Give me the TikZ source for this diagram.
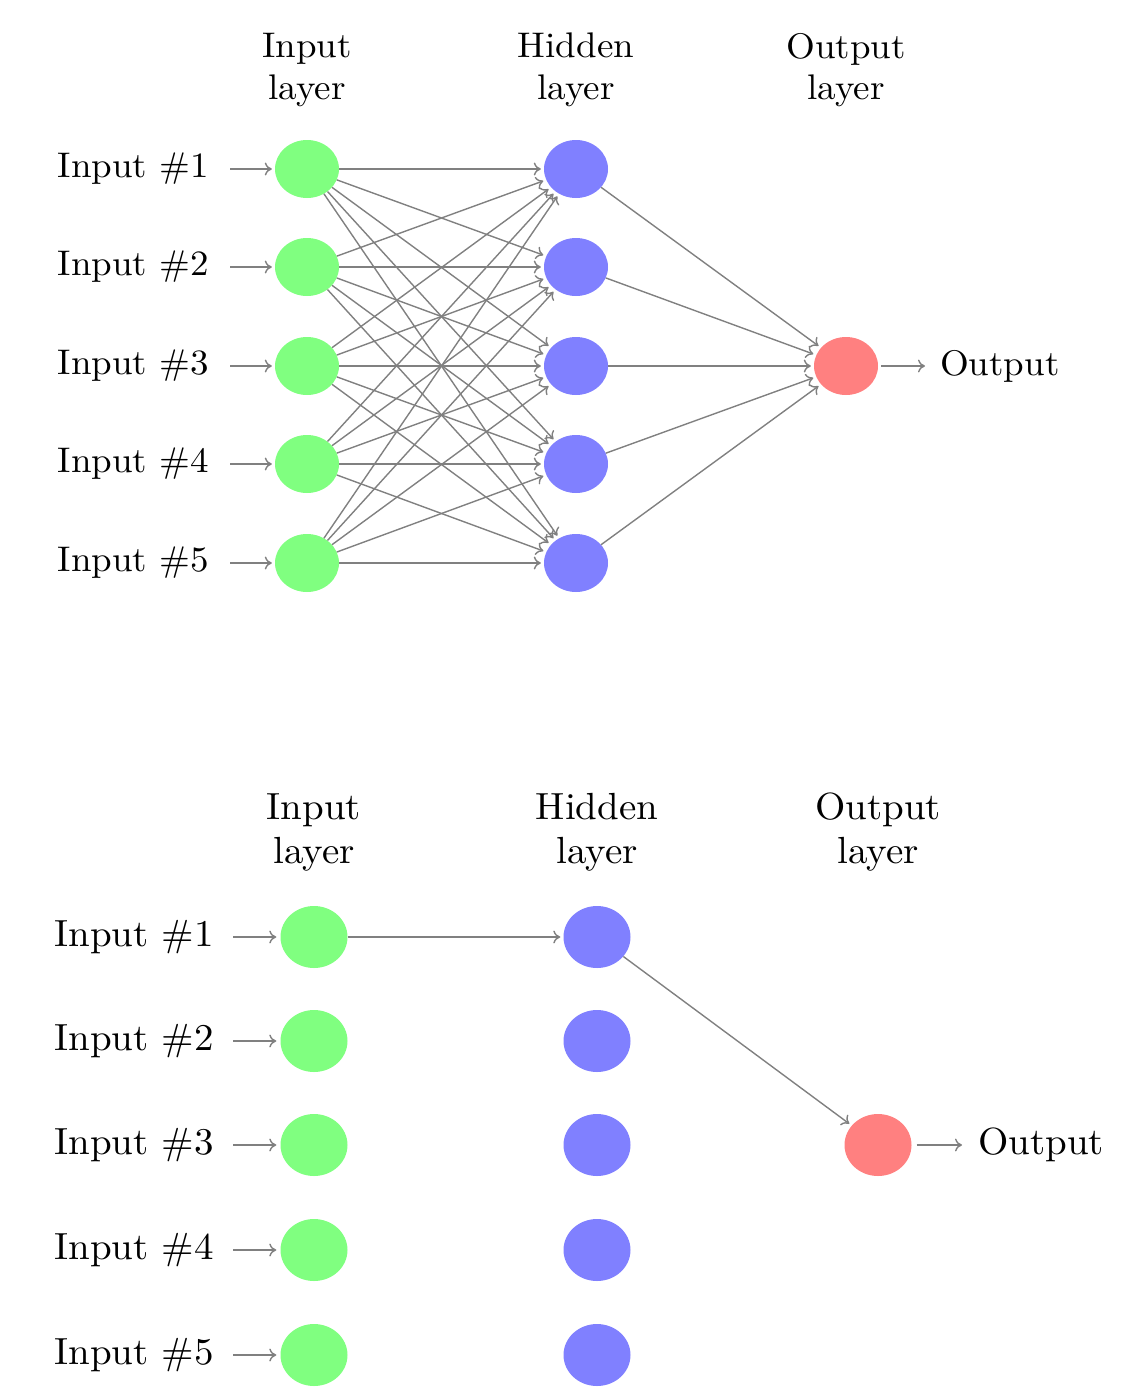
\documentclass[tikz,border=0pt]{standalone}
\usepackage{graphicx}
\usetikzlibrary{shapes.geometric,arrows.meta}
\newcommand{\stA}[1]{\scalebox{3.70}[3.56]{#1}}
\newcommand{\stB}[1]{\scalebox{3.90}[3.78]{#1}}
\begin{document}
\begin{tikzpicture}[x=1pt,y=-1pt,
 neuronA/.style={ellipse,minimum width=64pt,minimum height=58pt,inner sep=0pt,draw=none},
 neuronB/.style={ellipse,minimum width=67pt,minimum height=62pt,inner sep=0pt,draw=none},
 inn/.style={fill=green!50},
 hid/.style={fill=blue!50},
 outn/.style={fill=red!50},
 txtA/.style={font=\fontsize{10}{41.5}\selectfont,inner sep=0pt,align=center},
 txtB/.style={font=\fontsize{10}{44}\selectfont,inner sep=0pt,align=center},
 edge/.style={-{To[length=7pt,width=13pt]},draw=black!50,line width=1.4pt,shorten >=3pt},
]
\useasboundingbox (0,0) rectangle (1127,1394);

% ---------- top network ----------
\node[txtA] (hA1) at (307,70) {\stA{Input}\\\stA{layer}};
\node[txtA] (hA2) at (576,70) {\stA{Hidden}\\\stA{layer}};
\node[txtA] (hA3) at (846,70) {\stA{Output}\\\stA{layer}};

\foreach \n/\yy in {1/169,2/267,3/366,4/464,5/563}{
  \node[neuronA,inn] (ia\n) at (307,\yy) {};
  \node[neuronA,hid] (ha\n) at (576,\yy) {};
  \node[txtA,anchor=east] (la\n) at (209,\yy) {\stA{Input \#\n}};
  \draw[edge,shorten <=21pt] (la\n.east) -- (ia\n);
}
\node[neuronA,outn] (oa) at (846,366) {};
\node[txtA,anchor=west] (loa) at (940,366) {\stA{Output}};
\draw[edge,shorten <=3pt,shorten >=15pt] (oa) -- (loa.west);

\foreach \s in {1,...,5}{
  \foreach \t in {1,...,5}{
    \draw[edge] (ia\s) -- (ha\t);
  }
  \draw[edge] (ha\s) -- (oa);
}

% ---------- bottom network ----------
\node[txtB] (hB1) at (314,832) {\stB{Input}\\\stB{layer}};
\node[txtB] (hB2) at (597,832) {\stB{Hidden}\\\stB{layer}};
\node[txtB] (hB3) at (878,832) {\stB{Output}\\\stB{layer}};

\foreach \n/\yy in {1/937,2/1041,3/1145,4/1250,5/1355}{
  \node[neuronB,inn] (ib\n) at (314,\yy) {};
  \node[neuronB,hid] (hb\n) at (597,\yy) {};
  \node[txtB,anchor=east] (lb\n) at (214,\yy) {\stB{Input \#\n}};
  \draw[edge,shorten <=19pt,shorten >=4pt] (lb\n.east) -- (ib\n);
}
\node[neuronB,outn] (ob) at (878,1145) {};
\node[txtB,anchor=west] (lob) at (978,1145) {\stB{Output}};
\draw[edge,shorten <=5pt,shorten >=16pt] (ob) -- (lob.west);

\draw[edge] (ib1) -- (hb1);
\draw[edge] (hb1) -- (ob);
\end{tikzpicture}
\end{document}
